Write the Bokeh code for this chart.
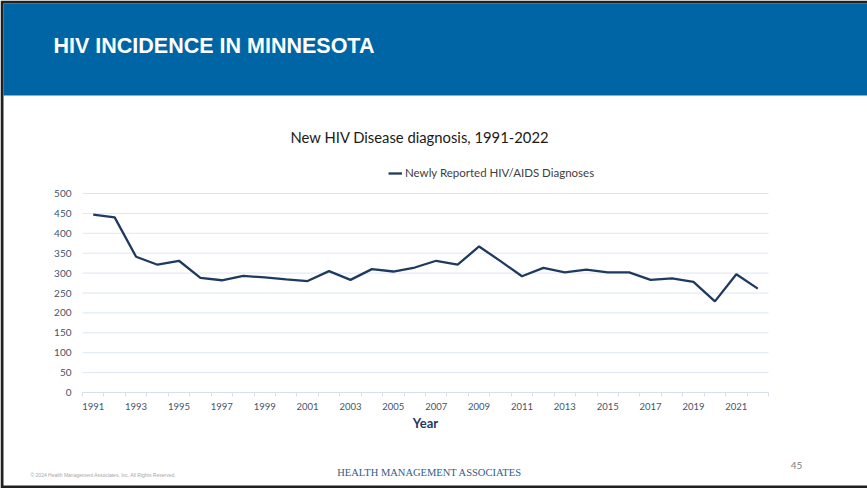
from bokeh.plotting import figure
from bokeh.models import Range1d, FixedTicker, Label, Legend, LegendItem
from bokeh.embed import file_html
from bokeh.resources import INLINE

# ---- data ----
years = list(range(1991, 2023))
diagnoses = [447, 440, 341, 321, 331, 288, 282, 293, 289, 284, 280, 305, 283, 310,
             304, 314, 331, 321, 367, 330, 292, 313, 302, 309, 302, 302, 283, 287,
             278, 229, 297, 261]
x_tick_years = list(range(1991, 2022, 2))
y_ticks = list(range(0, 501, 50))
series_name = "Newly Reported HIV/AIDS Diagnoses"
slide_title = "HIV INCIDENCE IN MINNESOTA"
chart_title = "New HIV Disease diagnosis, 1991-2022"

W, H = 867, 488
BLUE = "#0065A4"
FRAME_DARK = "#202020"

# plot area on the canvas: x 82..768 px, y 193..392 px (from top-left)
X0, X1 = years[0] - 0.5, years[-1] + 0.5
Y0, Y1 = 0, 500
PL, PR, PT, PB = 82, 768, 193, 392


def dx(px):
    return X0 + (px - PL) * (X1 - X0) / (PR - PL)


def dy(py):
    return Y0 + (PB - py) * (Y1 - Y0) / (PB - PT)


p = figure(width=W, height=H, x_range=Range1d(dx(0), dx(W)), y_range=Range1d(dy(H), dy(0)),
           output_backend="svg", toolbar_location=None, min_border=0)
p.title.visible = False
p.outline_line_color = None
p.grid.visible = False
p.background_fill_color = "white"
p.border_fill_color = "white"

# slide frame, white slide and header band
p.quad(left=[dx(0)], right=[dx(W)], top=[dy(0)], bottom=[dy(H)], fill_color=FRAME_DARK, line_color=None)
p.quad(left=[dx(3)], right=[dx(W)], top=[dy(3)], bottom=[dy(485)], fill_color="white", line_color=None)
p.quad(left=[dx(3)], right=[dx(W)], top=[dy(3)], bottom=[dy(95)], fill_color=BLUE, line_color=None)
p.add_layout(Label(x=dx(53), y=dy(45), text=slide_title, text_font="Liberation Sans",
                   text_font_style="bold", text_font_size="21.5px", text_color="white",
                   text_baseline="middle", text_align="left"))

# horizontal gridlines across the plot area
p.segment(x0=[X0] * len(y_ticks), x1=[X1] * len(y_ticks), y0=y_ticks, y1=y_ticks,
          line_color="#DCE6F2", line_width=1)

# data line
r = p.line(years, diagnoses, line_color="#1F3A5F", line_width=2.3)

# y axis (fixed at the left edge of the plot area)
p.yaxis.fixed_location = X0
p.yaxis.bounds = (Y0, Y1)
p.yaxis.ticker = FixedTicker(ticks=y_ticks)
p.yaxis.axis_line_color = None
p.yaxis.major_tick_line_color = None
p.yaxis.minor_tick_line_color = None
p.yaxis.major_label_text_font = "Lato"
p.yaxis.major_label_text_font_size = "10px"
p.yaxis.major_label_text_color = "#44546A"
p.yaxis.major_label_standoff = 5

# x axis (fixed at y = 0)
p.xaxis.fixed_location = Y0
p.xaxis.bounds = (X0, X1)
p.xaxis.ticker = FixedTicker(ticks=x_tick_years,
                             minor_ticks=[y - 0.5 for y in years] + [years[-1] + 0.5])
p.xaxis.axis_line_color = "#D6E0EC"
p.xaxis.major_tick_line_color = None
p.xaxis.major_tick_out = 0
p.xaxis.major_tick_in = 0
p.xaxis.minor_tick_line_color = "#D6E0EC"
p.xaxis.minor_tick_in = 0
p.xaxis.minor_tick_out = 4
p.xaxis.major_label_text_font = "Lato"
p.xaxis.major_label_text_font_size = "9.5px"
p.xaxis.major_label_text_color = "#44546A"
p.xaxis.major_label_standoff = 6
p.xaxis.axis_label = "Year"
p.xaxis.axis_label_text_font = "Lato"
p.xaxis.axis_label_text_font_style = "bold"
p.xaxis.axis_label_text_font_size = "13px"
p.xaxis.axis_label_text_color = "#1F3864"
p.xaxis.axis_label_standoff = 2

# legend (location = bottom-left in px from canvas bottom-left)
legend = Legend(items=[LegendItem(label=series_name, renderers=[r])],
                location=(388, H - 173 - 6), orientation="horizontal",
                border_line_color=None, background_fill_alpha=0,
                padding=0, margin=0, spacing=0,
                glyph_width=14, glyph_height=12, label_height=12, label_standoff=3,
                label_text_font="Lato", label_text_font_size="11.5px",
                label_text_color="#404040")
p.add_layout(legend)

# chart title and slide footer
p.add_layout(Label(x=dx(419.5), y=dy(136), text=chart_title, text_align="center",
                   text_baseline="middle", text_font="Lato", text_font_size="14.8px",
                   text_color="#1A1A1A"))
p.add_layout(Label(x=dx(30), y=dy(474), text="© 2024 Health Management Associates, Inc. All Rights Reserved.",
                   text_align="left", text_baseline="middle", text_font="Liberation Sans",
                   text_font_size="5px", text_color="#A6A6A6"))
p.add_layout(Label(x=dx(429), y=dy(472), text="HEALTH MANAGEMENT ASSOCIATES",
                   text_align="center", text_baseline="middle", text_font="Liberation Serif",
                   text_font_size="10.5px", text_color="#2F5D8A"))
p.add_layout(Label(x=dx(796), y=dy(465), text="45", text_align="center",
                   text_baseline="middle", text_font="Lato", text_font_size="10px",
                   text_color="#808080"))

open("out.html", "w").write(file_html(p, INLINE))
